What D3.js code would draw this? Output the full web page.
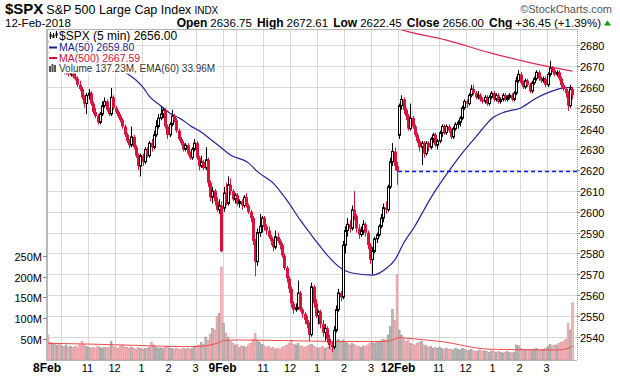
<!DOCTYPE html>
<html><head><meta charset="utf-8">
<script src="https://cdn.jsdelivr.net/npm/d3@7"></script>
<style>body{margin:0;background:#fff}svg{display:block}text{font-family:"Liberation Sans",Arial,sans-serif}</style>
</head><body><svg id="c" width="620" height="376"></svg>
<script>
// ---------- data ----------
const symbol = "$SPX", indexName = "S&P 500 Large Cap Index", exchange = "INDX", dateText = "12-Feb-2018";
const quoteLabels = ["Open", "High", "Low", "Close", "Chg"];
const quoteValues = ["2636.75", "2672.61", "2622.45", "2656.00", "+36.45 (+1.39%)"];
const legendTexts = ["$SPX (5 min) 2656.00", "MA(50) 2659.80", "MA(500) 2667.59", "Volume 137.23M, EMA(60) 33.96M"];
const dayLabels = ["8Feb", "9Feb", "12Feb"];
const barsPerDay = 78;
const gridOffsets = [6, 18, 30, 42, 54, 66];
const hourOffsets = [18, 30, 42, 54, 66];
const hourLabels = ["11", "12", "1", "2", "3"];
const priceTicks = [2540, 2550, 2560, 2570, 2580, 2590, 2600, 2610, 2620, 2630, 2640, 2650, 2660, 2670, 2680];
const volumeTicks = [50, 100, 150, 200, 250];
const priorClose7Feb = 2681.66;
const priorClose9Feb = 2619.55;

const opens = [
2681,2674,2671,2673,2670,2672,2669,2670,2667,2669,2666,2668,2665,2664,2661,2659,2655,2652,2656,2657,
2652,2648,2646,2643,2647,2651,2653,2649,2647,2655,2650,2648,2646,2644,2641,2637,2634,2632,2636,2631,
2627,2622,2627,2624,2630,2627,2633,2631,2637,2641,2645,2647,2649,2641,2637,2642,2646,2644,2639,2635,
2633,2630,2632,2628,2626,2630,2633,2626,2622,2624,2621,2625,2614,2607,2610,2605,2601,2603,
2601.8,2609,2604,2613,2610,2606,2608,2604,2605,2603,2607,2603,2600,2597,2586,2576,2590,2593,2597,2593,
2591,2588,2586,2583,2588,2586,2584,2579,2573,2568,2563,2556,2553,2554,2561,2553,2551,2548,2546,2541,
2564,2556,2550,2552,2546,2542,2544,2539,2536,2535,2543,2553,2561,2559,2584,2591,2594,2592,2601,2598,
2592,2589,2591,2594,2590,2584,2577,2581,2587,2589,2593,2597,2602,2601,2612,2624,2629,2622,
2636.75,2651,2654,2649,2646,2640,2645,2641,2637,2634,2631,2633,2628,2633,2631,2635,2637,2632,2634,2638,
2641,2638,2641,2639,2636,2640,2642,2643,2645,2650,2653,2652,2656,2659,2657,2655,2656,2654,2653,2655,
2652,2655,2657,2654,2656,2653,2654,2656,2654,2655,2656,2654,2657,2663,2666,2662,2660,2663,2661,2658,
2662,2664,2667,2664,2663,2664,2661,2666,2669,2668,2666,2667,2664,2661,2659,2657,2651,2659];
const highs = [
2685.3,2676,2674,2674,2673,2673,2671,2671,2670,2670,2669,2669,2667,2665,2663,2660,2656,2657,2659,2658,
2653,2650,2647,2648,2653,2655,2654,2650,2659.5,2656,2651,2649,2647,2645,2642,2638,2635,2641,2637,2632,
2628,2628,2628,2631,2631,2634,2635,2639,2644,2647,2650.5,2650,2650,2642,2643,2649,2647,2645,2640,2636,
2634,2633,2633,2629,2631,2635,2634,2627,2627,2625,2631,2626,2615,2612,2611,2607,2606,2605,
2612,2614,2617,2616,2611,2609,2609,2606,2606,2608,2609,2604,2601,2598,2587,2592,2599,2598,2598,2594,
2593,2589,2587,2591,2590,2587,2585,2580,2574,2569,2564,2557,2556,2567,2562,2554,2552,2550,2547,2566,
2565,2558,2553,2553,2548,2546,2545,2541,2538,2545,2555,2563,2562,2586,2593,2597,2596,2603,2610,2599,
2594,2593,2596,2595,2591,2585,2583,2588,2590,2594,2599,2604,2605,2613,2626,2633,2631,2624,
2652,2656,2655,2650,2647,2652,2646,2642,2638,2635,2634,2634,2634,2634,2636,2638,2638,2635,2639,2642,
2642,2642,2642,2640,2641,2643,2644,2646,2651,2654,2654,2657,2661,2661,2658,2658,2657,2655,2656,2656,
2656,2658,2658,2657,2657,2655,2657,2657,2656,2657,2657,2658,2665,2668,2667,2663,2664,2664,2662,2663,
2665,2668,2668,2665,2665,2665,2667,2672.61,2670,2669,2668,2668,2665,2662,2660,2658,2661,2660];
const lows = [
2672,2670,2670,2669,2669,2668,2668,2666,2666,2665,2665,2664,2663,2660,2658,2654,2650,2647,2654,2651,
2647,2645,2642,2642,2646,2650,2648,2646,2646,2649,2647,2645,2643,2640,2636,2633,2630.5,2631,2630,2626,
2620,2617,2622,2623,2626,2626,2629,2630,2636,2640,2644,2645,2640,2635,2636,2641,2643,2638,2634,2632,
2629,2629,2627,2625,2625,2629,2625,2620,2621,2620,2620,2612,2605,2604,2603,2600,2599,2580.6,
2600,2603,2603,2608,2605,2604,2603,2602,2601,2602,2602,2599,2595,2584,2569,2574,2588,2590,2591,2589,
2587,2584,2581,2582,2585,2582,2578,2572,2566,2561,2554,2551,2552,2553,2552,2549,2546,2544,2538,2540,
2554,2549,2546,2544,2540,2538,2537,2534,2532.7,2534,2542,2552,2557,2558,2580,2588,2590,2591,2596,2590,
2587,2588,2589,2588,2582,2575,2570,2580,2585,2588,2592,2595,2599,2600,2611,2622,2620,2613,
2635,2649,2647,2644,2639,2639,2640,2636,2633,2629,2622.45,2626,2627,2629,2630,2633,2631,2630,2633,2636,
2637,2637,2638,2635,2635,2639,2640,2641,2644,2649,2650,2651,2655,2656,2654,2654,2653,2652,2652,2651,
2651,2654,2653,2653,2652,2652,2653,2653,2653,2654,2653,2653,2656,2662,2661,2659,2659,2660,2657,2657,
2661,2663,2663,2662,2662,2660,2660,2665,2667,2665,2665,2663,2660,2658,2655,2648.5,2650,2654];
const closes = [
2674,2671,2673,2670,2672,2669,2670,2667,2669,2666,2668,2665,2664,2661,2659,2655,2652,2656,2657,2652,
2648,2646,2643,2647,2651,2653,2649,2647,2655,2650,2648,2646,2644,2641,2637,2634,2632,2636,2631,2627,
2622,2627,2624,2630,2627,2633,2631,2637,2641,2645,2647,2649,2641,2637,2642,2646,2644,2639,2635,2633,
2630,2632,2628,2626,2630,2633,2626,2622,2624,2621,2625,2614,2607,2610,2605,2601,2603,2581,
2609,2604,2613,2610,2606,2608,2604,2605,2603,2607,2603,2600,2597,2586,2576,2590,2593,2597,2593,2591,
2588,2586,2583,2588,2586,2584,2579,2573,2568,2563,2556,2553,2554,2561,2553,2551,2548,2546,2541,2564,
2556,2550,2552,2546,2542,2544,2539,2536,2535,2543,2553,2561,2559,2584,2591,2594,2592,2601,2598,2592,
2589,2591,2594,2590,2584,2577,2581,2587,2589,2593,2597,2602,2601,2612,2624,2629,2622,2619.55,
2651,2654,2649,2646,2640,2645,2641,2637,2634,2631,2633,2628,2633,2631,2635,2637,2632,2634,2638,2641,
2638,2641,2639,2636,2640,2642,2643,2645,2650,2653,2652,2656,2659,2657,2655,2656,2654,2653,2655,2652,
2655,2657,2654,2656,2653,2654,2656,2654,2655,2656,2654,2657,2663,2666,2662,2660,2663,2661,2658,2662,
2664,2667,2664,2663,2664,2661,2666,2669,2668,2666,2667,2664,2661,2659,2657,2651,2659,2656];
const volumes = [
60,42,40,38,36,40,34,32,36,30,32,30,33,31,36,44,38,32,30,29,
30,28,32,30,28,30,29,31,44,32,30,28,33,36,31,30,28,31,27,26,
30,28,25,27,28,30,42,36,30,28,29,27,30,32,28,27,26,28,26,25,
27,26,28,25,27,30,34,36,42,38,55,48,62,76,72,104,112,223,
88,64,55,45,40,36,38,30,34,32,30,36,40,50,64,48,42,38,34,30,
32,28,30,26,28,26,30,32,36,40,48,38,36,40,34,32,30,33,36,38,
34,30,28,30,32,28,30,34,40,44,46,50,42,48,44,40,36,40,38,34,
32,30,34,32,36,40,42,40,44,42,46,50,48,60,80,122,95,204,
72,60,50,44,48,40,38,36,40,42,44,36,34,30,32,28,30,28,30,27,
26,28,25,26,24,28,26,24,28,26,22,24,26,22,20,22,24,20,22,20,
18,22,20,18,20,19,17,18,20,18,17,19,36,34,28,26,24,26,25,24,
26,28,24,26,25,27,32,38,34,36,36,40,42,44,50,88,72,137.23];

// moving averages (bar index, value)
const ma50Bars = [0,14,23,30,35,39,42,45,50,54,59,63,68,72,76,81,89,93,100,106,112,118,124,130,135,144,151,154,158,163,167,170,179,184,190,198,203,210,217,223,229,233];
const ma50Vals = [2690,2684,2678,2671,2666.5,2663.3,2660,2655.5,2651,2647.5,2644.6,2641.5,2638.3,2635,2631.6,2627.3,2623.5,2619.3,2613.8,2605.7,2596.1,2587.4,2579.2,2573,2570.6,2569.6,2573.5,2576.8,2585,2593.2,2600.9,2606.6,2621,2628.2,2635.9,2645.5,2648,2649.9,2654.7,2657.6,2659.5,2659.8];
const ma500Bars = [148,156,177,196,214,233];
const ma500Vals = [2691,2687.8,2682.5,2676.5,2671.7,2667.59];
const emaBars = [0,20,40,60,68,72,76,78,85,110,140,150,154,156,158,175,196,226,231,233];
const emaVals = [40,38,35,32,33,36,42,47,48,46,44,45,50,54,53,44,26,24,28,33.96];

// ---------- layout ----------
const L = 47, R = 577, T = 29, B = 360;
const svg = d3.select("#c");
const x = d3.scaleLinear().domain([0, 235.5]).range([L, R]);
const y = d3.scaleLinear().domain([2540, 2680]).range([336.7, 45.3]);
const yv = d3.scaleLinear().domain([0, 250]).range([B, 255.8]);
const n = closes.length;
const RED = "#d6143c", BLACK = "#000";

svg.append("defs").append("clipPath").attr("id", "plot")
  .append("rect").attr("x", L).attr("y", T).attr("width", R - L).attr("height", B - T);

// ---------- header ----------
const h1 = svg.append("text").attr("x", 5).attr("y", 13.5).attr("fill", "#000");
h1.append("tspan").attr("font-weight", "bold").attr("font-size", 15).text(symbol);
h1.append("tspan").attr("font-size", 12.5).attr("dx", 3).text(indexName);
h1.append("tspan").attr("font-size", 10).attr("dx", 3).text(exchange);
svg.append("text").attr("x", 612).attr("y", 13).attr("text-anchor", "end").attr("font-size", 11)
  .attr("fill", "#555").text("\u00A9StockCharts.com");
svg.append("text").attr("x", 5).attr("y", 27).attr("font-size", 11.5).text(dateText);
const q = svg.append("text").attr("x", 601).attr("y", 27).attr("text-anchor", "end").attr("font-size", 11.5);
quoteLabels.forEach((lab, k) => {
  q.append("tspan").attr("font-weight", "bold").attr("font-size", 12).attr("dx", k ? 5 : 0).text(lab);
  q.append("tspan").attr("dx", 3).text(quoteValues[k]);
});
svg.append("path").attr("d", "M604,25.5 L611,25.5 L607.5,20.5 Z").attr("fill", "#00a000");

// ---------- grid ----------
const grid = svg.append("g").attr("stroke", "#d9d9d9").attr("stroke-width", 1);
priceTicks.forEach(p => grid.append("line").attr("x1", L).attr("x2", R)
  .attr("y1", Math.round(y(p)) + 0.5).attr("y2", Math.round(y(p)) + 0.5));
dayLabels.forEach((d, k) => {
  [0].concat(gridOffsets).forEach(o => {
    const xx = Math.round(x(k * barsPerDay + o)) + 0.5;
    grid.append("line").attr("x1", xx).attr("x2", xx).attr("y1", T).attr("y2", B);
  });
});

const plot = svg.append("g").attr("clip-path", "url(#plot)");

// ---------- volume ----------
const bw = x(1) - x(0);
for (let i = 0; i < n; i++) {
  const prev = i === 0 ? priorClose7Feb : closes[i - 1];
  const down = closes[i] < prev;
  plot.append("rect").attr("x", x(i) + 0.25).attr("width", bw - 0.5)
    .attr("y", yv(volumes[i])).attr("height", B - yv(volumes[i]))
    .attr("fill", down ? "#f2b7bb" : "#b9b9b9")
    .attr("stroke", down ? "#e3848d" : "#8e8e8e").attr("stroke-width", 0.5);
}
plot.append("path")
  .datum(emaBars.map((b, k) => [b, emaVals[k]]))
  .attr("fill", "none").attr("stroke", "#f04848").attr("stroke-width", 1)
  .attr("d", d3.line().x(d => x(d[0] + 0.5)).y(d => yv(d[1])).curve(d3.curveMonotoneX));

// ---------- moving averages ----------
plot.append("path")
  .datum(ma50Bars.map((b, k) => [b, ma50Vals[k]]))
  .attr("fill", "none").attr("stroke", "#23239b").attr("stroke-width", 1.2)
  .attr("d", d3.line().x(d => x(d[0] + 0.5)).y(d => y(d[1])).curve(d3.curveMonotoneX));
plot.append("path")
  .datum(ma500Bars.map((b, k) => [b, ma500Vals[k]]))
  .attr("fill", "none").attr("stroke", "#dc2a50").attr("stroke-width", 1.2)
  .attr("d", d3.line().x(d => x(d[0] + 0.5)).y(d => y(d[1])).curve(d3.curveMonotoneX));

// previous close dashed line
plot.append("line").attr("x1", x(2 * barsPerDay)).attr("x2", R)
  .attr("y1", Math.round(y(priorClose9Feb)) + 0.5).attr("y2", Math.round(y(priorClose9Feb)) + 0.5)
  .attr("stroke", "#0a14ff").attr("stroke-width", 1.4).attr("stroke-dasharray", "4,3");

// ---------- candles ----------
for (let i = 0; i < n; i++) {
  const prev = i === 0 ? priorClose7Feb : closes[i - 1];
  const col = closes[i] >= prev ? BLACK : RED;
  const cx = Math.round(x(i + 0.5)) + 0.5;
  plot.append("line").attr("x1", cx).attr("x2", cx).attr("y1", y(highs[i])).attr("y2", y(lows[i]))
    .attr("stroke", col).attr("stroke-width", 1);
  const top = y(Math.max(opens[i], closes[i])), bot = y(Math.min(opens[i], closes[i]));
  const hgt = Math.max(1, bot - top);
  if (closes[i] > opens[i]) {
    plot.append("rect").attr("x", cx - 1).attr("width", 2).attr("y", top).attr("height", hgt)
      .attr("fill", "#fff").attr("stroke", col).attr("stroke-width", 1);
  } else {
    plot.append("rect").attr("x", cx - 1.5).attr("width", 3).attr("y", top).attr("height", hgt)
      .attr("fill", col);
  }
}

// ---------- legend ----------
const legColors = ["#000", "#1c1c8c", "#d0103c", "#333"];
const legY = [39.5, 51, 61.5, 72];
const legSize = [12, 10.5, 10.5, 10];
const leg = svg.append("g");
legendTexts.forEach((t, k) => {
  const bg = leg.append("rect").attr("fill", "#fff");
  const tx = leg.append("text").attr("x", 59).attr("y", legY[k]).attr("font-size", legSize[k])
    .attr("fill", legColors[k]).text(t);
  const w = tx.node().getComputedTextLength();
  bg.attr("x", 48).attr("y", legY[k] - (k === 0 ? 10 : 9)).attr("width", w + 13).attr("height", k === 0 ? 12 : 10.5);
});
// icons
leg.append("line").attr("x1", 49).attr("x2", 57).attr("y1", 47.5).attr("y2", 47.5).attr("stroke", "#1c1c8c").attr("stroke-width", 2);
leg.append("line").attr("x1", 49).attr("x2", 57).attr("y1", 58).attr("y2", 58).attr("stroke", "#d0103c").attr("stroke-width", 2);
[[50, 32, 39], [53, 33, 38], [56, 31, 38]].forEach(c => {
  leg.append("line").attr("x1", c[0] + 0.5).attr("x2", c[0] + 0.5).attr("y1", c[1]).attr("y2", c[2]).attr("stroke", "#000");
  leg.append("rect").attr("x", c[0] - 0.5).attr("y", c[1] + 2).attr("width", 2).attr("height", 3).attr("fill", "#000");
});
[[49, 66], [51.5, 64], [54, 65]].forEach(c => {
  leg.append("rect").attr("x", c[0]).attr("y", c[1]).attr("width", 2).attr("height", 72 - c[1]).attr("fill", "#555");
});

// ---------- frame & axes ----------
svg.append("line").attr("x1", L).attr("x2", R).attr("y1", T + 0.5).attr("y2", T + 0.5).attr("stroke", "#b4b4b4");
svg.append("line").attr("x1", L).attr("x2", R).attr("y1", B + 0.5).attr("y2", B + 0.5).attr("stroke", "#b4b4b4");
svg.append("line").attr("x1", L).attr("x2", L).attr("y1", T).attr("y2", B + 1).attr("stroke", "#b8b8b8").attr("stroke-width", 2);
svg.append("line").attr("x1", R + 0.5).attr("x2", R + 0.5).attr("y1", T).attr("y2", B + 1)
  .attr("stroke", "#999").attr("stroke-dasharray", "1,1");

const ax = svg.append("g").attr("font-size", 11).attr("fill", "#000");
priceTicks.forEach(p => {
  const yy = Math.round(y(p)) + 0.5;
  ax.append("line").attr("x1", R).attr("x2", R + 3).attr("y1", yy).attr("y2", yy).attr("stroke", "#888");
  ax.append("text").attr("x", 580).attr("y", yy + 4).text(p);
});
volumeTicks.forEach(v => {
  const yy = Math.round(yv(v)) + 0.5;
  ax.append("line").attr("x1", L - 4).attr("x2", L).attr("y1", yy).attr("y2", yy).attr("stroke", "#888");
  ax.append("text").attr("x", 42).attr("y", yy + 4).attr("text-anchor", "end").text(v + "M");
});
dayLabels.forEach((d, k) => {
  ax.append("text").attr("x", x(k * barsPerDay)).attr("y", 372).attr("text-anchor", "middle")
    .attr("font-weight", "bold").attr("font-size", 12).text(d);
  hourOffsets.forEach((o, j) => {
    ax.append("text").attr("x", x(k * barsPerDay + o)).attr("y", 372).attr("text-anchor", "middle")
      .attr("font-size", 11).text(hourLabels[j]);
  });
});
</script></body></html>
